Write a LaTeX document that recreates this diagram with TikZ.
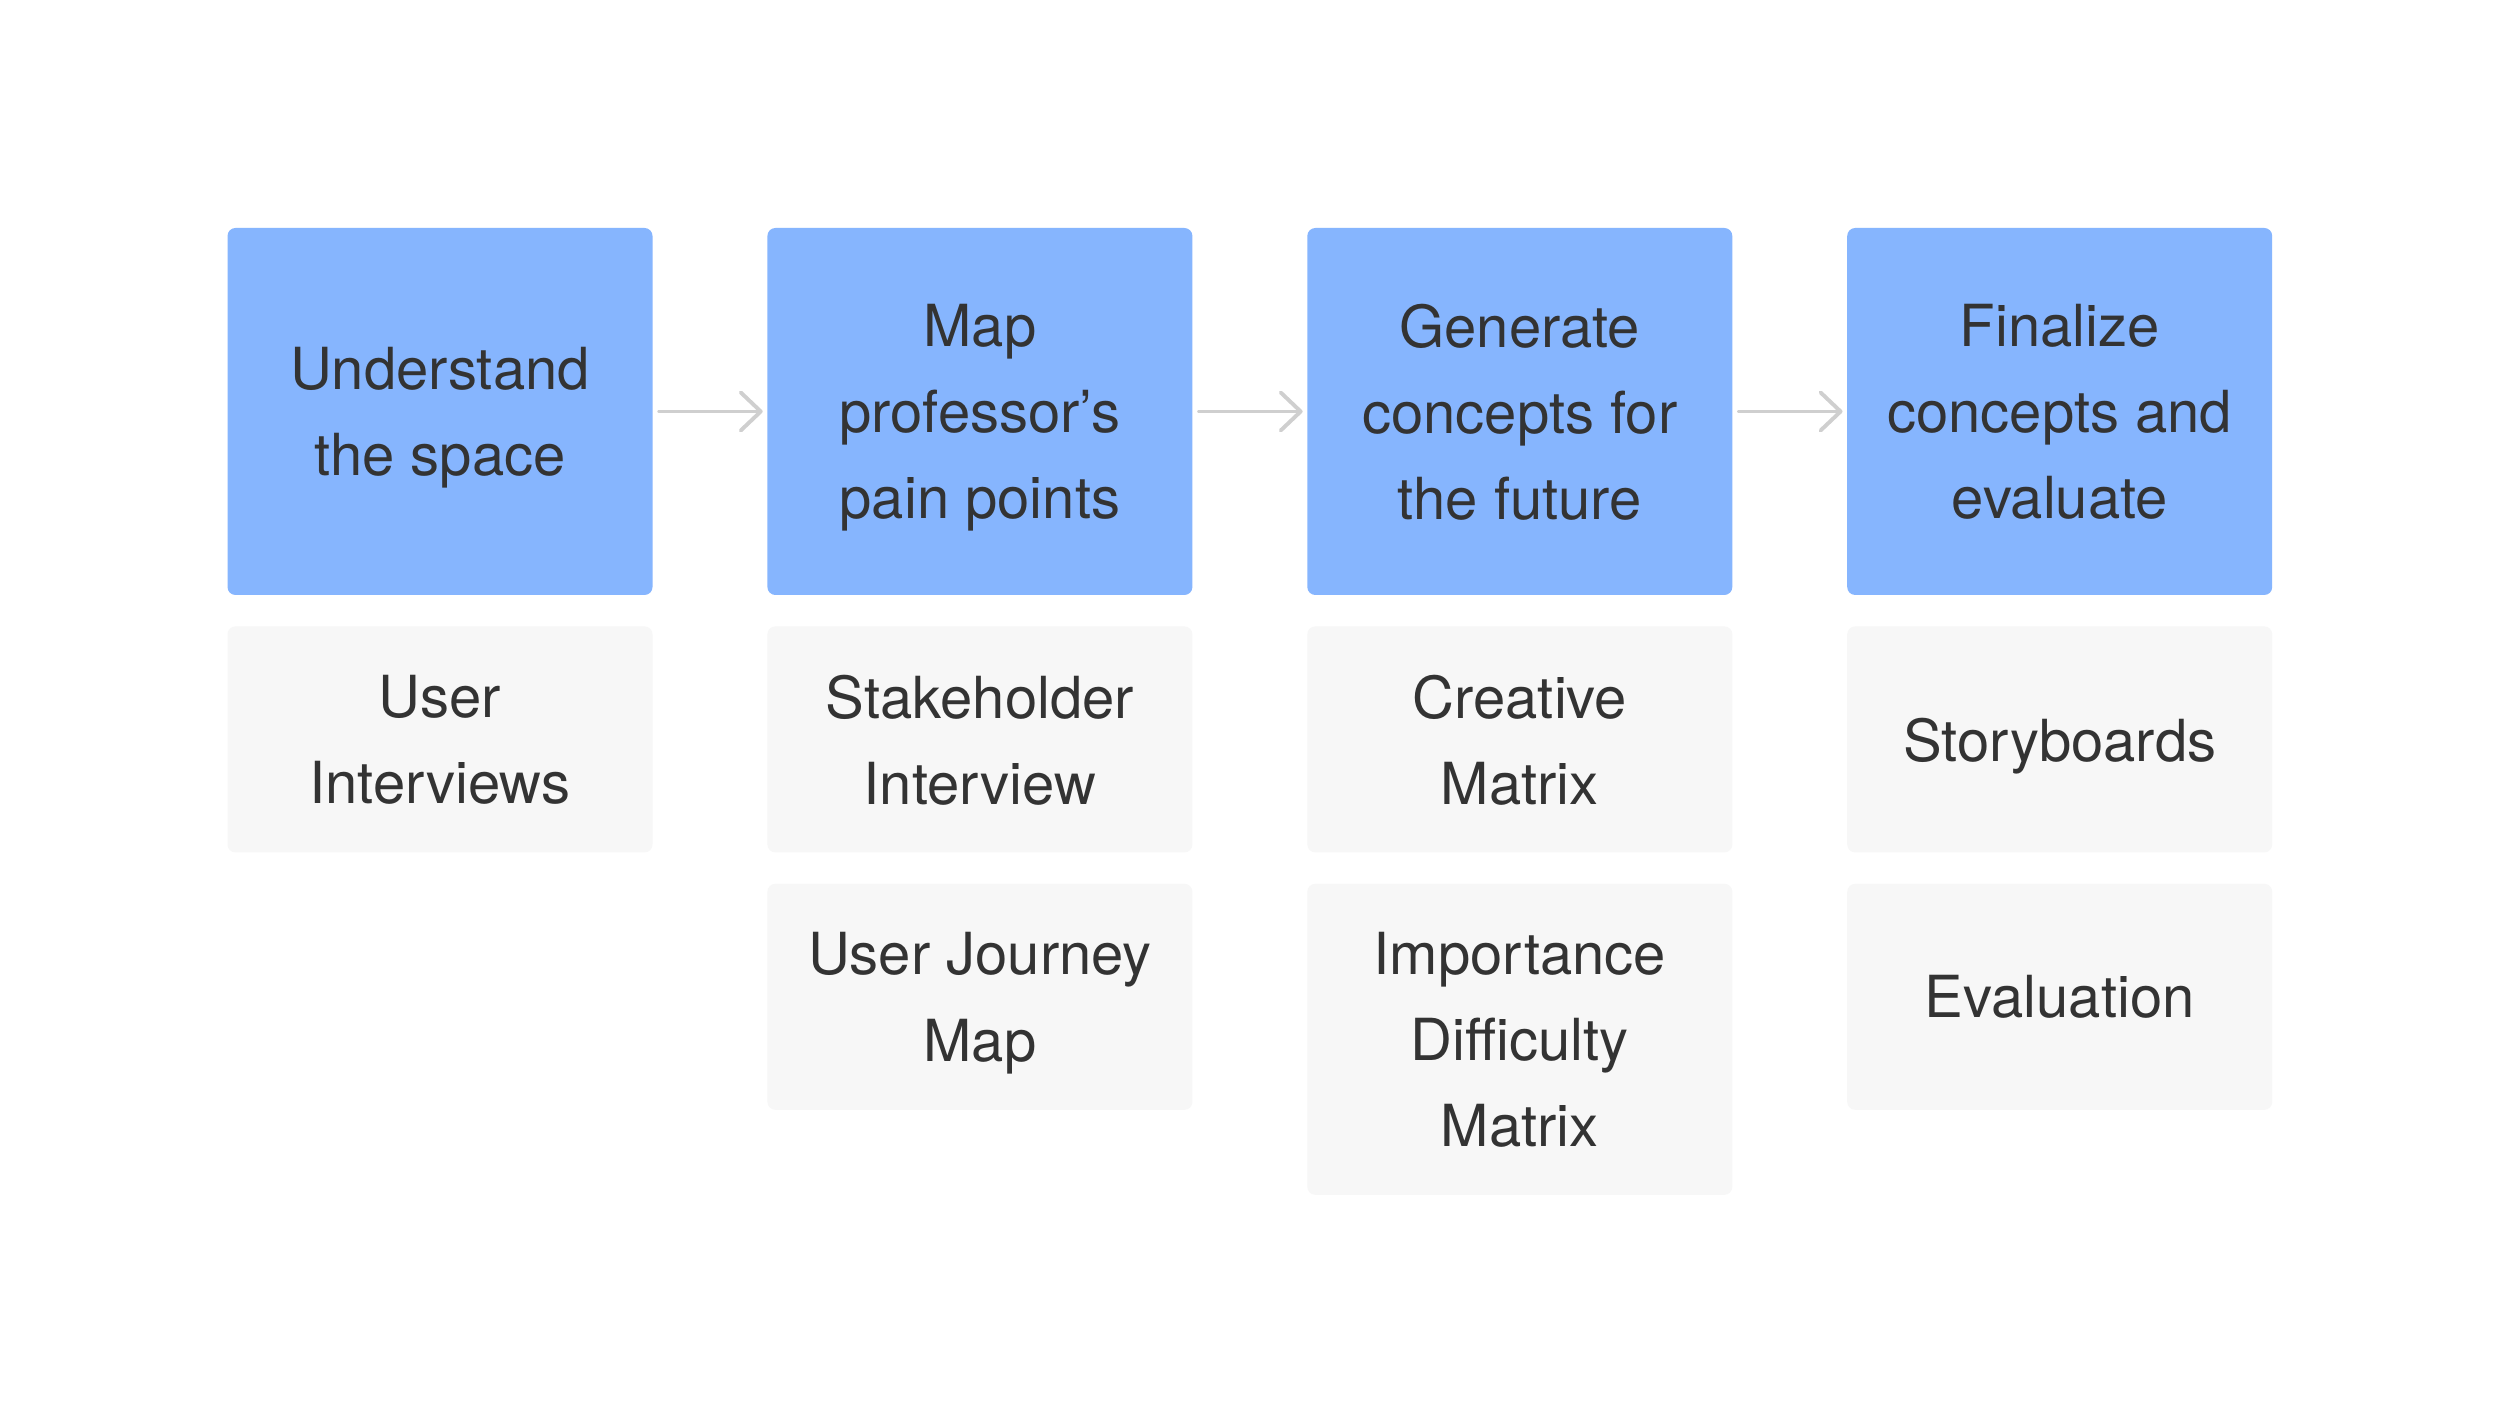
\documentclass[tikz,border=0pt]{standalone}
\usepackage{fontspec}
\setmainfont{TeX Gyre Heros}
\usepackage{tikz}
\usetikzlibrary{arrows.meta, positioning}
\usepackage{xcolor}
\definecolor{stageblue}{RGB}{134,181,254}
\definecolor{methodgray}{RGB}{247,247,247}
\definecolor{inkgray}{RGB}{51,51,51}
\definecolor{arrowgray}{RGB}{207,207,207}

\begin{document}
\begin{tikzpicture}[
    stage/.style={rectangle, rounded corners=0.08cm, fill=stageblue,
                  minimum width=4.25cm, minimum height=3.67cm, align=center, text depth=0pt,
                  text=inkgray, font=\fontsize{16.5}{24.5}\selectfont},
    method/.style={rectangle, rounded corners=0.08cm, fill=methodgray,
                   minimum width=4.25cm, minimum height=2.26cm, align=center, text depth=0pt,
                   text=inkgray, font=\fontsize{16.5}{24.5}\selectfont},
    arr/.style={-{Straight Barb[length=2mm, width=3.8mm, round]}, line width=1.1pt, arrowgray, line cap=round},
]
    % Canvas
    \fill[white] (0,0) rectangle (25,14.2);
    \useasboundingbox (0,0) rectangle (25,14.2);

    % Stages
    \node[stage] (understand) at (4.40,10.085) {Understand\\the space};
    \node[stage, right=1.135cm of understand] (mappain) {Map\\professor’s\\pain points};
    \node[stage, right=1.135cm of mappain] (generate) {Generate\\concepts for\\the future};
    \node[stage, right=1.135cm of generate] (finalize) {Finalize\\concepts and\\evaluate};

    % Methods
    \node[method, below=0.3cm of understand] (userint) {User\\Interviews};
    \node[method, below=0.3cm of mappain] (stakeint) {Stakeholder\\Interview};
    \node[method, below=0.3cm of stakeint] (journey) {User Journey\\Map};
    \node[method, below=0.3cm of generate] (creative) {Creative\\Matrix};
    \node[method, minimum height=3.11cm, below=0.3cm of creative] (impdiff) {Importance\\Difficulty\\Matrix};
    \node[method, below=0.3cm of finalize] (story) {Storyboards};
    \node[method, below=0.3cm of story] (evaluation) {Evaluation};

    % Flow
    \draw[arr] ([xshift=0.06cm]understand.east) -- ([xshift=-0.04cm]mappain.west);
    \draw[arr] ([xshift=0.06cm]mappain.east) -- ([xshift=-0.04cm]generate.west);
    \draw[arr] ([xshift=0.06cm]generate.east) -- ([xshift=-0.04cm]finalize.west);
\end{tikzpicture}
\end{document}
